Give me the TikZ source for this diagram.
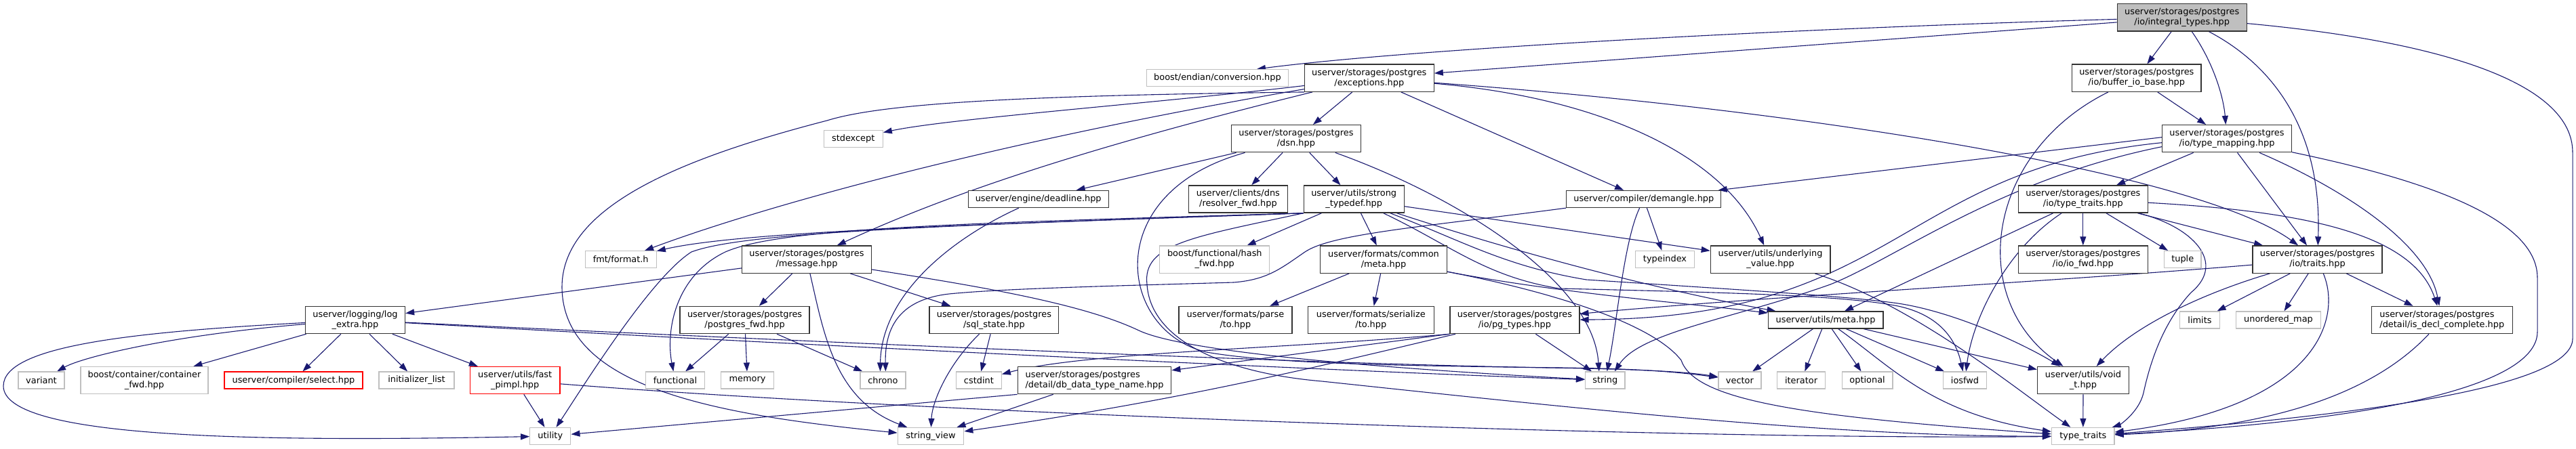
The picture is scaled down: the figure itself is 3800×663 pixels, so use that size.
\documentclass[tikz,border=0pt]{standalone}
\usepackage{fontspec}
\setmainfont{DejaVu Sans}
\usetikzlibrary{arrows.meta}
\pgfdeclarelayer{bg}
\pgfsetlayers{bg,main}
\definecolor{edgeblue}{HTML}{191970}
\definecolor{extgray}{HTML}{BFBFBF}
\definecolor{docline}{HTML}{333333}
\begin{document}
\begin{tikzpicture}[x=1pt,y=-1pt,
  box/.style={rectangle,inner sep=0pt,align=center,line width=1.3pt,
    font=\fontsize{12.9pt}{15pt}\selectfont,text=black},
  doc/.style={box,draw=docline,fill=white},
  ext/.style={box,draw=extgray,fill=white},
  miss/.style={box,draw=red,fill=white},
  sel/.style={box,draw=docline,fill=extgray},
  hone/.style={minimum height=25pt},
  htwo/.style={minimum height=40.2pt},
  conn/.style={draw=edgeblue,line width=1.1pt,-{Triangle[length=13pt,width=9pt]}},
]
\useasboundingbox (0,0) rectangle (3800,663);
% ---------------- nodes ----------------
\node[sel,htwo,minimum width=191pt] (top) at (3218.7,25.8) {userver/storages/postgres\\/io/integral\_types.hpp};
\node[ext,hone,minimum width=209pt] (conv) at (1795.9,115.2) {boost/endian/conversion.hpp};
\node[doc,htwo,minimum width=190.7pt] (exc) at (2019.8,115.2) {userver/storages/postgres\\/exceptions.hpp};
\node[doc,htwo,minimum width=190.5pt] (bio) at (3151.8,115.2) {userver/storages/postgres\\/io/buffer\_io\_base.hpp};
\node[ext,hone,minimum width=87pt] (stdexc) at (1258.7,204.9) {stdexcept};
\node[doc,htwo,minimum width=191pt] (dsn) at (1911.9,204.7) {userver/storages/postgres\\/dsn.hpp};
\node[doc,htwo,minimum width=191pt] (tmap) at (3285,204.7) {userver/storages/postgres\\/io/type\_mapping.hpp};
\node[doc,hone,minimum width=207pt] (deadline) at (1531.7,294) {userver/engine/deadline.hpp};
\node[doc,htwo,minimum width=146pt] (resolver) at (1826.4,294) {userver/clients/dns\\/resolver\_fwd.hpp};
\node[doc,htwo,minimum width=148pt] (strong) at (1997.2,294) {userver/utils/strong\\\_typedef.hpp};
\node[doc,hone,minimum width=228pt] (demangle) at (2424.8,294) {userver/compiler/demangle.hpp};
\node[doc,htwo,minimum width=191pt] (ttraits) at (3072.8,294) {userver/storages/postgres\\/io/type\_traits.hpp};
\node[ext,hone,minimum width=105pt] (fmt) at (915.7,383.1) {fmt/format.h};
\node[doc,htwo,minimum width=190.7pt] (message) at (1190,383.1) {userver/storages/postgres\\/message.hpp};
\node[ext,htwo,minimum width=162pt] (hashfwd) at (1791.8,383.1) {boost/functional/hash\\\_fwd.hpp};
\node[doc,htwo,minimum width=187pt] (cmeta) at (2041,383.1) {userver/formats/common\\/meta.hpp};
\node[ext,hone,minimum width=87pt] (typeindex) at (2456,383.1) {typeindex};
\node[doc,htwo,minimum width=176.6pt] (uval) at (2611.6,383.1) {userver/utils/underlying\\\_value.hpp};
\node[doc,htwo,minimum width=191pt] (iofwd) at (3072.8,383.1) {userver/storages/postgres\\/io/io\_fwd.hpp};
\node[ext,hone,minimum width=54.7pt] (tuple) at (3219.7,383.1) {tuple};
\node[doc,htwo,minimum width=191pt] (traits) at (3418.5,383.1) {userver/storages/postgres\\/io/traits.hpp};
\node[doc,htwo,minimum width=147pt] (logextra) at (524,472.5) {userver/logging/log\\\_extra.hpp};
\node[doc,htwo,minimum width=191pt] (pgfwd) at (1098.6,472.5) {userver/storages/postgres\\/postgres\_fwd.hpp};
\node[doc,htwo,minimum width=190.7pt] (sqlstate) at (1466.4,472.5) {userver/storages/postgres\\/sql\_state.hpp};
\node[doc,htwo,minimum width=167pt] (parseto) at (1822.4,472.5) {userver/formats/parse\\/to.hpp};
\node[doc,htwo,minimum width=185.7pt] (serto) at (2022.3,472.5) {userver/formats/serialize\\/to.hpp};
\node[doc,htwo,minimum width=191pt] (pgtypes) at (2234.4,472.5) {userver/storages/postgres\\/io/pg\_types.hpp};
\node[doc,hone,minimum width=169.6pt] (umeta) at (2693.1,472.5) {userver/utils/meta.hpp};
\node[ext,hone,minimum width=59pt] (limits) at (3245,472.5) {limits};
\node[ext,hone,minimum width=124.4pt] (umap) at (3361,472.5) {unordered\_map};
\node[doc,htwo,minimum width=208pt,align=left] (isdecl) at (3602.3,472.5) {userver/storages/postgres\\/detail/is\_decl\_complete.hpp};
\node[ext,hone,minimum width=68pt] (variant) at (61,561.6) {variant};
\node[ext,htwo,minimum width=188pt] (cfwd) at (213,561.6) {boost/container/container\\\_fwd.hpp};
\node[miss,hone,minimum width=204pt] (select) at (433,561.6) {userver/compiler/select.hpp};
\node[ext,hone,minimum width=111pt] (initlist) at (614.5,561.6) {initializer\_list};
\node[miss,htwo,minimum width=132.6pt] (fastpimpl) at (759.7,561.6) {userver/utils/fast\\\_pimpl.hpp};
\node[ext,hone,minimum width=86.6pt] (functional) at (996,561.6) {functional};
\node[ext,hone,minimum width=77.5pt] (memory) at (1102.5,561.6) {memory};
\node[ext,hone,minimum width=67pt] (chrono) at (1302.4,561.6) {chrono};
\node[ext,hone,minimum width=66.7pt] (cstdint) at (1443.9,561.6) {cstdint};
\node[doc,htwo,minimum width=226.4pt,align=left] (dbdata) at (1614.5,561.6) {userver/storages/postgres\\/detail/db\_data\_type\_name.hpp};
\node[ext,hone,minimum width=58.5pt] (string) at (2367.8,561.6) {string};
\node[ext,hone,minimum width=63pt] (vector) at (2566.4,561.6) {vector};
\node[ext,hone,minimum width=71pt] (iterator) at (2657,561.6) {iterator};
\node[ext,hone,minimum width=74.6pt] (optional) at (2754.6,561.6) {optional};
\node[ext,hone,minimum width=64pt] (iosfwd) at (2898.5,561.6) {iosfwd};
\node[doc,htwo,minimum width=135pt] (voidt) at (3073,561.6) {userver/utils/void\\\_t.hpp};
\node[ext,hone,minimum width=60pt] (utility) at (811.8,644) {utility};
\node[ext,hone,minimum width=97.4pt] (stringview) at (1373,644) {string\_view};
\node[ext,hone,minimum width=92.5pt] (typetraits) at (3072.8,644) {type\_traits};
% ---------------- edges ----------------
\begin{pgfonlayer}{bg}
\fill[white] (0,0) rectangle (3800,663);
% top
\draw[conn] (top) .. controls (2700,40) and (2100,70) .. ([xshift=58pt]conv.north);
\draw[conn] (top) -- (exc);
\draw[conn] (top) -- (bio);
\draw[conn] (top) .. controls (3265,92) and (3280,143) .. (tmap);
\draw[conn] (top) .. controls (3360,100) and (3425,200) .. (traits);
\draw[conn] (top) .. controls (3600,61) and (3795,122) .. (3795,225) -- (3795,500) .. controls (3795,570) and (3500,612) .. (typetraits);
% bio
\draw[conn] (bio) -- (tmap);
\draw[conn] (bio) .. controls (2930,225) and (2900,440) .. (voidt);
% exceptions
\draw[conn] (exc) .. controls (1700,153) and (1400,175) .. (stdexc);
\draw[conn] (exc.south west) .. controls (1500,141) and (1300,153) .. (1220,178) .. controls (1000,235) and (830,306) .. (829,423) .. controls (829,571) and (1050,612) .. (stringview);
\draw[conn] (exc) .. controls (1500,204) and (1150,296) .. (fmt);
\draw[conn] (exc) .. controls (1600,219) and (1400,286) .. (message);
\draw[conn] (exc) -- (dsn);
\draw[conn] (exc) -- (demangle);
\draw[conn] (exc) .. controls (2350,143) and (2540,224) .. (uval);
\draw[conn] (exc) .. controls (2700,165) and (3250,260) .. (traits);
% dsn
\draw[conn] (dsn) -- (deadline);
\draw[conn] (dsn) -- (resolver);
\draw[conn] (dsn) -- (strong);
\draw[conn] (dsn) .. controls (2150,290) and (2350,415) .. ([xshift=-9pt]string.north);
\draw[conn] (dsn) .. controls (1620,285) and (1650,490) .. (1780,520) .. controls (1950,550) and (2400,535) .. (vector);
% deadline
\draw[conn] (deadline) .. controls (1400,354) and (1300,437) .. ([xshift=-4pt]chrono.north);
% demangle
\draw[conn] (demangle.south west) .. controls (2100,335) and (1965,345) .. (1925,372) .. controls (1890,396) and (1870,413) .. (1820,417) .. controls (1650,422) and (1480,426) .. (1400,434) .. controls (1330,442) and (1305,480) .. ([xshift=4pt]chrono.north);
\draw[conn] (demangle) .. controls (2395,357) and (2385,480) .. (string);
\draw[conn] (demangle) -- (typeindex);
% postgres io type_traits
\draw[conn] (ttraits) -- (iofwd);
\draw[conn] (ttraits) -- (tuple);
\draw[conn] (ttraits) -- (traits);
\draw[conn] (ttraits) .. controls (3400,312) and (3560,345) .. (isdecl);
\draw[conn] (ttraits) -- (umeta);
\draw[conn] (ttraits) .. controls (2960,368) and (2910,470) .. (iosfwd);
\draw[conn] (ttraits) .. controls (3235,335) and (3285,388) .. (3232,432) .. controls (3197,470) and (3175,520) .. (3162,580) .. controls (3155,610) and (3125,628) .. (typetraits);
% io traits
\draw[conn] (traits) -- (limits);
\draw[conn] (traits) -- (umap);
\draw[conn] (traits) -- (isdecl);
\draw[conn] (traits) .. controls (3455,470) and (3420,600) .. (typetraits);
\draw[conn] (traits) .. controls (3000,418) and (2600,438) .. (pgtypes);
\draw[conn] (traits) .. controls (3250,433) and (3150,480) .. (voidt);
% type_mapping
\draw[conn] ([yshift=2pt]tmap.west) -- (demangle);
\draw[conn] (tmap) -- (ttraits);
\draw[conn] (tmap) -- (traits);
\draw[conn] (tmap) .. controls (3450,276) and (3580,357) .. (isdecl);
\draw[conn] (tmap) .. controls (3550,260) and (3743,316) .. (3743,410) -- (3743,490) .. controls (3743,571) and (3500,622) .. (typetraits);
\draw[conn] ([yshift=-6pt]tmap.west) .. controls (2800,250) and (2800,470) .. (pgtypes);
\draw[conn] ([yshift=-12pt]tmap.west) .. controls (2950,265) and (2800,380) .. (2700,420) .. controls (2560,470) and (2420,490) .. ([xshift=14pt]string.north);
% is_decl_complete, underlying_value, meta, void_t
\draw[conn] (isdecl) .. controls (3500,582) and (3350,632) .. (typetraits);
\draw[conn] (uval) .. controls (2820,449) and (2970,571) .. (typetraits);
\draw[conn] (umeta) -- (vector);
\draw[conn] (umeta) -- (iterator);
\draw[conn] (umeta) -- (optional);
\draw[conn] (umeta) -- (iosfwd);
\draw[conn] (umeta) -- (voidt);
\draw[conn] (umeta) .. controls (2790,541) and (2850,612) .. (typetraits);
\draw[conn] (voidt) -- (typetraits);
% formats common meta
\draw[conn] (cmeta) -- (parseto);
\draw[conn] (cmeta) -- (serto);
\draw[conn] (cmeta) .. controls (2300,433) and (2500,449) .. (umeta);
\draw[conn] (cmeta) .. controls (2300,433) and (2440,480) .. (2480,532) .. controls (2500,590) and (2650,615) .. (typetraits);
% strong_typedef
\draw[conn] (strong.south west) .. controls (1500,330) and (1100,340) .. (fmt);
\draw[conn] (strong.south west) .. controls (1400,330) and (1150,337) .. (1070,372) .. controls (995,408) and (982,490) .. (functional);
\draw[conn] (strong.south west) .. controls (1400,333) and (1100,342) .. (1020,372) .. controls (960,410) and (860,571) .. (utility);
\draw[conn] (strong) -- (hashfwd);
\draw[conn] (strong) -- (cmeta);
\draw[conn] (strong) -- (uval);
\draw[conn] (strong) .. controls (2300,393) and (2500,438) .. (umeta);
\draw[conn] (strong) .. controls (2140,362) and (2190,408) .. (2300,426) .. controls (2550,432) and (2720,436) .. (2800,452) .. controls (2860,465) and (2885,500) .. (iosfwd);
\draw[conn] (strong) .. controls (2160,357) and (2220,393) .. (2340,413) .. controls (2600,430) and (2730,438) .. (2800,448) .. controls (2880,460) and (2980,505) .. (voidt);
\draw[conn] (strong.south west) .. controls (1760,350) and (1685,360) .. (1692,420) .. controls (1697,500) and (1800,550) .. (1950,563) .. controls (2300,600) and (2700,645) .. (typetraits);
% postgres_fwd
\draw[conn] (pgfwd) -- (functional);
\draw[conn] (pgfwd) -- (memory);
\draw[conn] (pgfwd) -- (chrono);
% sql_state
\draw[conn] (sqlstate) -- (cstdint);
\draw[conn] (sqlstate) .. controls (1400,536) and (1375,592) .. (stringview);
% pg_types
\draw[conn] (pgtypes) -- (string);
\draw[conn] (pgtypes.south west) .. controls (1900,515) and (1600,520) .. (cstdint);
\draw[conn] (pgtypes.south west) -- (dbdata);
\draw[conn] (pgtypes) .. controls (1950,540) and (1750,590) .. (stringview);
% db_data_type_name
\draw[conn] (dbdata.south west) -- (utility);
\draw[conn] (dbdata) -- (stringview);
% message
\draw[conn] (message) -- (logextra);
\draw[conn] (message) -- (pgfwd);
\draw[conn] (message) -- (sqlstate);
\draw[conn] (message) .. controls (1460,425) and (1600,450) .. (1680,488) .. controls (1760,526) and (2150,550) .. (string);
\draw[conn] (message) .. controls (1215,490) and (1230,590) .. (stringview);
% log_extra
\draw[conn] (logextra) .. controls (250,495) and (120,528) .. (variant);
\draw[conn] (logextra) -- (cfwd);
\draw[conn] (logextra) -- (select);
\draw[conn] (logextra) -- (initlist);
\draw[conn] (logextra) -- (fastpimpl);
\draw[conn] (logextra) .. controls (200,490) and (5,510) .. (5,570) .. controls (5,650) and (400,652) .. (utility);
\draw[conn] (logextra) .. controls (1100,505) and (1900,545) .. (string);
\draw[conn] (logextra) .. controls (1200,505) and (2000,540) .. (2300,543) .. controls (2420,544) and (2480,550) .. (vector);
% fast_pimpl
\draw[conn] (fastpimpl) -- (utility);
\draw[conn] (fastpimpl) .. controls (1400,612) and (2500,650) .. (typetraits);
\end{pgfonlayer}
\end{tikzpicture}
\end{document}
